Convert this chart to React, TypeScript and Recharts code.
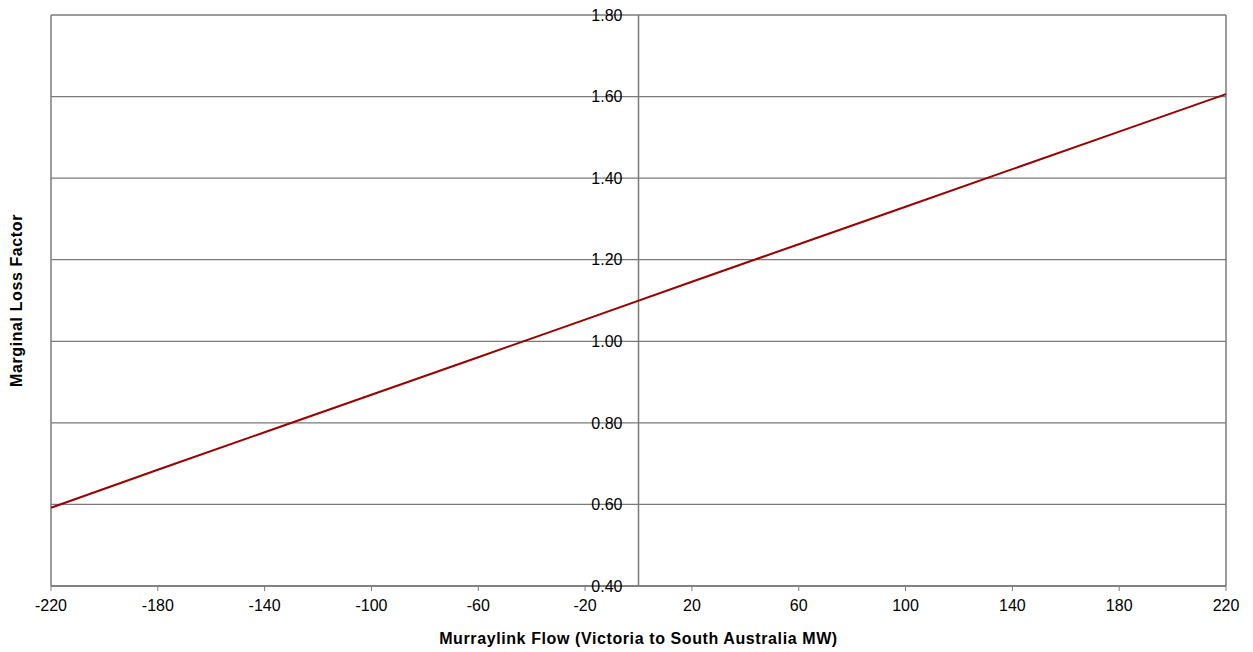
import React from "react";
import {
  LineChart,
  Line,
  XAxis,
  YAxis,
  CartesianGrid,
  ReferenceLine,
  ReferenceDot,
  Label,
} from "recharts";

// Murraylink flow (MW) and marginal loss factor
const flows = [-220, -180, -140, -100, -60, -20, 20, 60, 100, 140, 180, 220];
const mlf = [0.592, 0.685, 0.777, 0.869, 0.961, 1.053, 1.146, 1.238, 1.33, 1.422, 1.514, 1.606];

const xTicks = [-220, -180, -140, -100, -60, -20, 20, 60, 100, 140, 180, 220];
const yTicks = [0.4, 0.6, 0.8, 1.0, 1.2, 1.4, 1.6, 1.8];

const data = flows.map((f, i) => ({ flow: f, mlf: mlf[i] }));

const GREY = "#7a7a7a";
const FONT = "'Liberation Sans', Arial, sans-serif";
const titleStyle = {
  fontSize: 16,
  fontWeight: "bold",
  fill: "#000",
  letterSpacing: 0.6,
};

export default function App() {
  return (
    <div style={{ position: "absolute", left: 0, top: 0 }}>
      <LineChart
        width={1253}
        height={652}
        data={data}
        margin={{ top: 15, right: 27, bottom: 0, left: 0 }}
        style={{ fontFamily: FONT }}
      >
        <CartesianGrid vertical={false} stroke={GREY} strokeWidth={1.3} />
        <XAxis
          dataKey="flow"
          type="number"
          domain={[-220, 220]}
          ticks={xTicks}
          interval={0}
          height={66}
          axisLine={{ stroke: GREY, strokeWidth: 1.5 }}
          tickLine={{ stroke: GREY }}
          tickSize={5}
          tickMargin={9}
          tick={{ fill: "#000", fontSize: 16 }}
        >
          <Label
            value="Murraylink Flow (Victoria to South Australia MW)"
            position="insideBottom"
            offset={8}
            style={titleStyle}
          />
        </XAxis>
        <YAxis
          type="number"
          domain={[0.4, 1.8]}
          ticks={yTicks}
          interval={0}
          width={51}
          tick={() => <g />}
          axisLine={false}
          tickLine={false}
        >
          <Label
            value="Marginal Loss Factor"
            angle={-90}
            position="insideLeft"
            offset={16}
            style={{ ...titleStyle, textAnchor: "middle" }}
          />
        </YAxis>
        <ReferenceLine x={-220} stroke={GREY} strokeWidth={1.5} />
        <ReferenceLine x={220} stroke={GREY} strokeWidth={1.5} />
        <ReferenceLine x={0} stroke={GREY} strokeWidth={1.5} />
        {yTicks.map((v) => (
          <ReferenceDot
            key={v}
            x={0}
            y={v}
            r={0}
            fill="none"
            stroke="none"
            label={{
              value: v.toFixed(2),
              position: "left",
              offset: 16,
              fill: "#000",
              fontSize: 16,
            }}
          />
        ))}
        <Line
          type="linear"
          dataKey="mlf"
          stroke="#990000"
          strokeWidth={2}
          dot={false}
          isAnimationActive={false}
        />
      </LineChart>
    </div>
  );
}
